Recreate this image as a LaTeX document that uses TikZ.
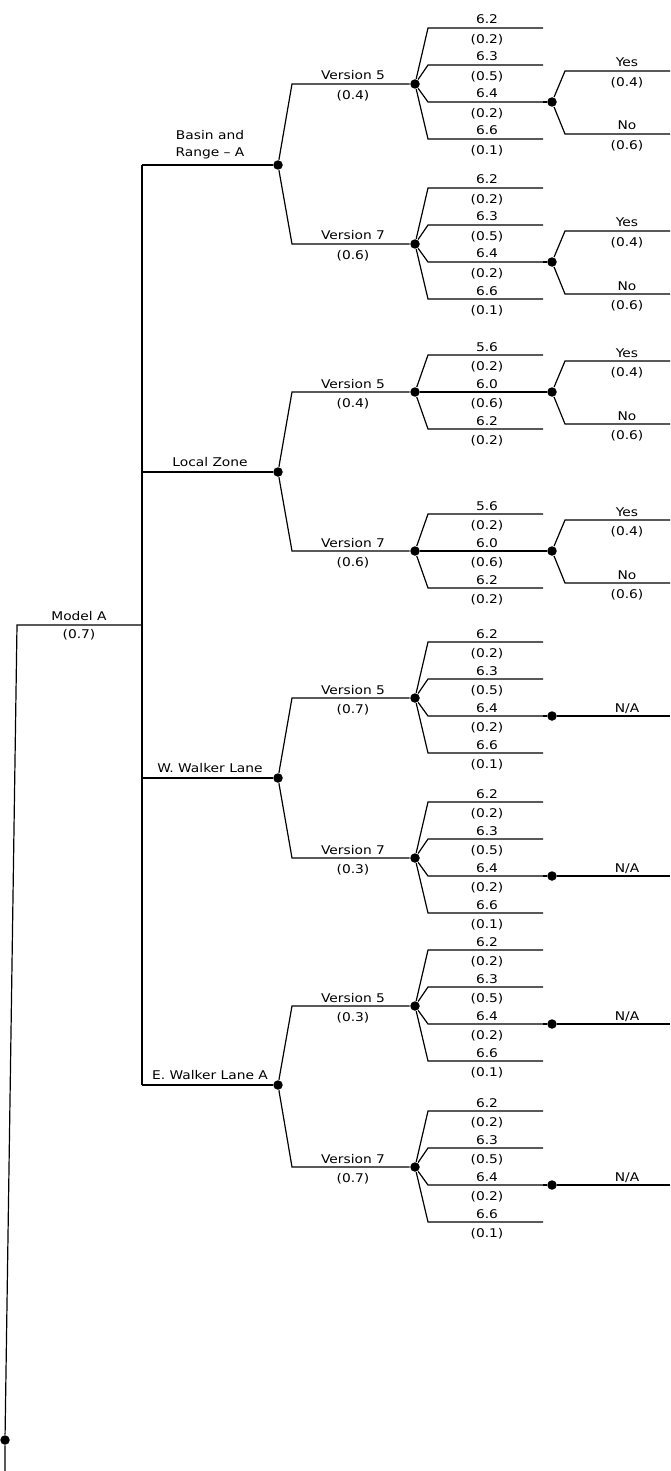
\documentclass[tikz,border=0pt]{standalone}
\usepackage{fontspec}
\setmainfont{DejaVu Sans}[FakeStretch=1.15]
\usetikzlibrary{positioning,calc}

\begin{document}
\begin{tikzpicture}[
  x=1pt, y=-1pt,
  line width=1.2pt,
  chance/.style={circle, fill=black, inner sep=0pt, minimum size=9.5pt},
  lbl/.style={font=\fontsize{12}{17}\selectfont, inner sep=0pt, anchor=base},
  prob/.style={font=\fontsize{12}{17}\selectfont, inner sep=0pt, anchor=north},
]
\useasboundingbox (0,0) rectangle (670,1471);

% root and Model A branch
\node[chance] (root) at (5,1440) {};
\coordinate (rootend) at (5,1471);
\coordinate (modelA-c) at (17,625);
\coordinate (modelA-e) at (142,625);
\draw (rootend) -- (root) -- (modelA-c) -- (modelA-e);
\node[lbl] (modelA) at (79,620) {Model A};
\node[prob] (modelA-p) at (79,629) {(0.7)};

% fault sources
\foreach \nm/\ys/\txt in {basin/165/{Basin and\\Range -- A}, local/472/{Local Zone},
    wwalker/778/{W. Walker Lane}, ewalker/1085/{E. Walker Lane A}} {
  \node[chance] (\nm) at (278,\ys) {};
  \coordinate (\nm-c) at (142,\ys);
  \draw (\nm-c) -- (\nm);
  \node[lbl, align=center, anchor=south] (\nm-lbl) at (210,\ys-5) {\txt};
}
\draw (basin-c) -- (ewalker-c);

% versions
\foreach \src/\v/\yv/\p in {basin/5/84/0.4, basin/7/244/0.6, local/5/392/0.4, local/7/551/0.6,
    wwalker/5/698/0.7, wwalker/7/858/0.3, ewalker/5/1006/0.3, ewalker/7/1167/0.7} {
  \node[chance] (\src\v) at (415,\yv) {};
  \coordinate (\src\v-c) at (292,\yv);
  \draw (\src) -- (\src\v-c) -- (\src\v);
  \node[lbl] (\src\v-lbl) at (353,\yv-4) {Version \v};
  \node[prob] (\src\v-p) at (353,\yv+6) {(\p)};
}

% magnitudes, four-way
\foreach \grp in {basin5,basin7,wwalker5,wwalker7,ewalker5,ewalker7} {
  \foreach \dy/\val/\p [count=\k] in {-56/6.2/0.2,-19/6.3/0.5,18/6.4/0.2,55/6.6/0.1} {
    \coordinate (\grp-o\k) at ($(\grp)+(13,\dy)$);
    \coordinate (\grp-e\k) at ($(\grp)+(128,\dy)$);
    \draw (\grp) -- (\grp-o\k) -- (\grp-e\k);
    \node[lbl] (\grp-v\k) at ($(\grp)+(72,\dy-4)$) {\val};
    \node[prob] (\grp-p\k) at ($(\grp)+(72,\dy+6)$) {(\p)};
  }
  \node[chance] (\grp-d) at ($(\grp)+(137,18)$) {};
  \draw (\grp-e3) -- (\grp-d);
}

% magnitudes, three-way
\foreach \grp in {local5,local7} {
  \foreach \dy/\val/\p [count=\k] in {-37/5.6/0.2,0/6.0/0.6,37/6.2/0.2} {
    \coordinate (\grp-o\k) at ($(\grp)+(13,\dy)$);
    \coordinate (\grp-e\k) at ($(\grp)+(128,\dy)$);
    \draw (\grp) -- (\grp-o\k) -- (\grp-e\k);
    \node[lbl] (\grp-v\k) at ($(\grp)+(72,\dy-4)$) {\val};
    \node[prob] (\grp-p\k) at ($(\grp)+(72,\dy+6)$) {(\p)};
  }
  \node[chance] (\grp-d) at ($(\grp)+(137,0)$) {};
  \draw (\grp-e2) -- (\grp-d);
}

% yes / no
\foreach \grp in {basin5,basin7,local5,local7} {
  \foreach \dy/\ans/\p in {-31/Yes/0.4, 32/No/0.6} {
    \coordinate (\grp-\ans-c) at ($(\grp-d)+(13,\dy)$);
    \coordinate (\grp-\ans-e) at ($(\grp-d)+(118,\dy)$);
    \draw (\grp-d) -- (\grp-\ans-c) -- (\grp-\ans-e);
    \node[lbl] (\grp-\ans) at ($(\grp-d)+(75,\dy-4)$) {\ans};
    \node[prob] (\grp-\ans-p) at ($(\grp-d)+(75,\dy+6)$) {(\p)};
  }
}

% not applicable
\foreach \grp in {wwalker5,wwalker7,ewalker5,ewalker7} {
  \coordinate (\grp-na-e) at ($(\grp-d)+(118,0)$);
  \draw (\grp-d) -- (\grp-na-e);
  \node[lbl] (\grp-na) at ($(\grp-d)+(75,-4)$) {N/A};
}
\end{tikzpicture}
\end{document}
